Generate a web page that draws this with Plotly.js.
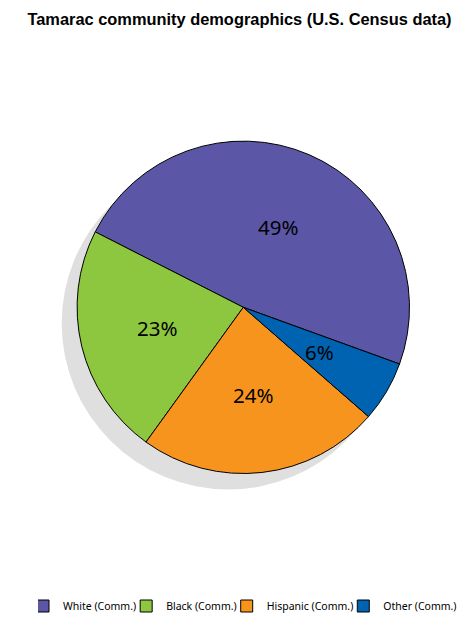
<!DOCTYPE html>
<html>
<head>
<meta charset="utf-8">
<script src="https://cdn.plot.ly/plotly-3.0.1.min.js"></script>
<style>html,body{margin:0;padding:0;background:#fff;}#chart{width:470px;height:624px;}</style>
</head>
<body>
<div id="chart"></div>
<script>
// ---- data ----
const categories = ['White (Comm.)', 'Black (Comm.)', 'Hispanic (Comm.)', 'Other (Comm.)'];
const shares = [49, 23, 24, 6];            // percent labels as printed
const colors = ['#5B57A6', '#8DC63F', '#F7941E', '#0063B1'];
const chartTitle = 'Tamarac community demographics (U.S. Census data)';

// ---- layout geometry (pixels) ----
const W = 470, H = 624;
const M = {l: 5, r: 5, t: 100, b: 100};
const gw = W - M.l - M.r, gh = H - M.t - M.b;
const pie = {cx: 243.3, cy: 307.8, r: 166.6};
const shadowOff = {dx: -15, dy: 16};
const rotation = -63;
const labelFrac = 0.53;

const px2x = p => (p - M.l) / gw;
const px2y = p => 1 - (p - M.t) / gh;

const dom = {
  x: [px2x(pie.cx - pie.r), px2x(pie.cx + pie.r)],
  y: [px2y(pie.cy + pie.r), px2y(pie.cy - pie.r)]
};

// label positions from the slice angles (counterclockwise, plotly convention)
const total = shares.reduce((a, b) => a + b, 0);
const ang = shares.map(v => v / total * 360);
let cum = 0;
const annotations = shares.map((v, i) => {
  const mid = rotation + ang[0] - cum - ang[i] / 2;
  cum += ang[i];
  const rad = mid * Math.PI / 180;
  const x = pie.cx + labelFrac * pie.r * Math.sin(rad);
  const y = pie.cy - labelFrac * pie.r * Math.cos(rad);
  return {
    x: px2x(x), y: px2y(y), xref: 'paper', yref: 'paper',
    text: v + '%', showarrow: false, xanchor: 'center', yanchor: 'middle',
    font: {family: 'Noto Sans', size: 20.5, color: '#000'}
  };
});

const trace = {
  type: 'pie',
  labels: categories,
  values: shares,
  sort: false,
  direction: 'counterclockwise',
  rotation: rotation,
  textinfo: 'none',
  hoverinfo: 'label+percent',
  marker: {colors: colors, line: {color: '#000', width: 1}},
  domain: dom
};

const layout = {
  width: W, height: H,
  margin: M,
  paper_bgcolor: '#fff',
  title: {
    text: chartTitle,
    font: {family: 'Liberation Sans, Arial, sans-serif', size: 16.4, color: '#000', weight: 'bold'},
    x: 239.5 / W, xref: 'container', xanchor: 'center',
    y: 1 - 19 / H, yref: 'container', yanchor: 'middle'
  },
  showlegend: true,
  legend: {
    orientation: 'h',
    x: px2x(462), xanchor: 'right',
    y: px2y(606), yanchor: 'middle',
    font: {family: 'Noto Sans', size: 10.5, color: '#000'},
    bgcolor: 'rgba(0,0,0,0)',
    indentation: -15,
    traceorder: 'normal'
  },
  shapes: [{
    type: 'circle', xref: 'paper', yref: 'paper', layer: 'below',
    x0: px2x(pie.cx - pie.r + shadowOff.dx), x1: px2x(pie.cx + pie.r + shadowOff.dx),
    y0: px2y(pie.cy + pie.r + shadowOff.dy), y1: px2y(pie.cy - pie.r + shadowOff.dy),
    fillcolor: '#DFDFDF', line: {width: 0}
  }],
  annotations: annotations
};

Plotly.newPlot('chart', [trace], layout, {displayModeBar: false, staticPlot: true});
</script>
</body>
</html>
